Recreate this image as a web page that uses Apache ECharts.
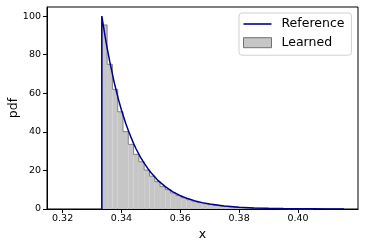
<!DOCTYPE html>
<html><head><meta charset="utf-8">
<script src="https://cdn.jsdelivr.net/npm/echarts@6/dist/echarts.min.js"></script>
<style>html,body{margin:0;padding:0;background:#fff}#c{width:365px;height:248px}</style>
</head><body><div id="c"></div>
<script>
// Reference pdf curve [x, pdf]
const refX = [0.33333, 0.33333, 0.3345, 0.335, 0.336, 0.3375, 0.339, 0.340, 0.3415, 0.3425, 0.344, 0.345, 0.3465, 0.3475, 0.349, 0.350, 0.3525, 0.355, 0.3575, 0.360, 0.3625, 0.365, 0.3675, 0.370, 0.375, 0.380, 0.385, 0.390, 0.395, 0.400, 0.405, 0.410, 0.4156];
const refY = [0, 100, 89.0, 84.6, 76.6, 65.9, 56.7, 51.3, 44.2, 40.0, 34.4, 31.1, 26.8, 24.3, 20.9, 18.9, 14.7, 11.5, 8.9, 6.9, 5.4, 4.2, 3.3, 2.6, 1.6, 0.94, 0.57, 0.35, 0.21, 0.13, 0.08, 0.05, 0.03];

// Learned histogram: first bin edge, bin width, bin heights
const binStart = 0.33333;
const binWidth = 0.0018;
const binHeights = [95.4, 75.0, 62.0, 50.4, 40.1, 33.5, 28.3, 24.5, 20.2, 17.0, 14.2, 11.6, 10.0, 8.3, 7.0, 5.8, 4.8, 4.0, 3.3, 2.8, 2.3, 1.9, 1.6, 1.3, 1.1, 0.9, 0.75, 0.6, 0.5, 0.4, 0.33, 0.27, 0.22, 0.18, 0.15, 0.12, 0.1, 0.08, 0.06, 0.05];

const xTicks = [0.32, 0.34, 0.36, 0.38, 0.40];
const yTicks = [0, 20, 40, 60, 80, 100];

const refData = refX.map((x, i) => [x, refY[i]]);
const histData = binHeights.map((h, i) => [binStart + i * binWidth, binStart + (i + 1) * binWidth, h, i === 0 ? 0 : binHeights[i - 1], i === binHeights.length - 1 ? 1 : 0]);

const FONT = 'DejaVu Sans';
const chart = echarts.init(document.getElementById('c'), null, {renderer: 'canvas'});
chart.setOption({
  animation: false,
  grid: {left: 47, right: 7, top: 7, bottom: 39, outerBoundsMode: 'none', containLabel: false,
    show: true, borderColor: '#000', borderWidth: 1, backgroundColor: 'transparent'},
  xAxis: {
    type: 'value', min: 0.3147, max: 0.4204,
    name: 'x', nameLocation: 'middle', nameGap: 19, nameMoveOverlap: false,
    nameTextStyle: {fontFamily: FONT, fontSize: 12.5, color: '#000'},
    axisLine: {show: true, onZero: false, lineStyle: {color: '#000', width: 1}},
    axisTick: {show: true, length: 4, customValues: xTicks, lineStyle: {color: '#000'}},
    axisLabel: {customValues: xTicks, fontFamily: FONT, fontSize: 9.5, color: '#000', margin: 5,
      formatter: v => v.toFixed(2)},
    splitLine: {show: false}
  },
  yAxis: {
    type: 'value', min: 0, max: 104.7,
    name: 'pdf', nameLocation: 'middle', nameGap: 27, nameMoveOverlap: false,
    nameTextStyle: {fontFamily: FONT, fontSize: 12.5, color: '#000'},
    axisLine: {show: true, lineStyle: {color: '#000', width: 1}},
    axisTick: {show: true, length: 4, customValues: yTicks, lineStyle: {color: '#000'}},
    axisLabel: {customValues: yTicks, fontFamily: FONT, fontSize: 9.5, color: '#000', margin: 6},
    splitLine: {show: false}
  },
  legend: {
    orient: 'vertical', left: 239, top: 13,
    padding: [3.5, 7, 5, 4], itemGap: 3.7,
    itemWidth: 28, itemHeight: 10,
    backgroundColor: '#fff', borderColor: '#d0d0d0', borderWidth: 1, borderRadius: 3,
    textStyle: {fontFamily: FONT, fontSize: 12.5, color: '#000', lineHeight: 15, padding: [0, 0, 0, 5]},
    data: [
      {name: 'Reference', icon: 'path://M0,0 M0,4.2 L28,4.2 L28,5.8 L0,5.8 Z M28,10',
        itemStyle: {color: '#00008b', borderWidth: 0}},
      {name: 'Learned', icon: 'rect', itemStyle: {color: '#c6c6c6', borderColor: '#707070', borderWidth: 1}}
    ]
  },
  series: [
    {
      name: 'Learned', type: 'custom', z: 1,
      itemStyle: {color: '#c6c6c6'},
      encode: {x: [0, 1], y: 2},
      data: histData,
      renderItem: function (params, api) {
        const x0 = api.value(0), x1 = api.value(1), h = api.value(2), hp = api.value(3), last = api.value(4);
        const a = api.coord([x0, h]);
        const b = api.coord([x1, 0]);
        const pPrev = api.coord([x0, hp]);
        const pts = [[a[0], pPrev[1]], [a[0], a[1]], [b[0], a[1]]];
        if (last) pts.push([b[0], b[1]]);
        return {
          type: 'group',
          children: [
            {type: 'rect', shape: {x: a[0], y: a[1], width: b[0] - a[0], height: b[1] - a[1]}, style: {fill: '#c6c6c6', stroke: null}},
            {type: 'polyline', shape: {points: pts}, style: {stroke: '#777', lineWidth: 0.9, fill: null}}
          ]
        };
      }
    },
    {
      name: 'Reference', type: 'line', z: 3,
      data: refData, symbol: 'none', smooth: false,
      lineStyle: {color: '#00008b', width: 1.5},
      itemStyle: {color: '#00008b'}
    }
  ]
});
</script></body></html>
